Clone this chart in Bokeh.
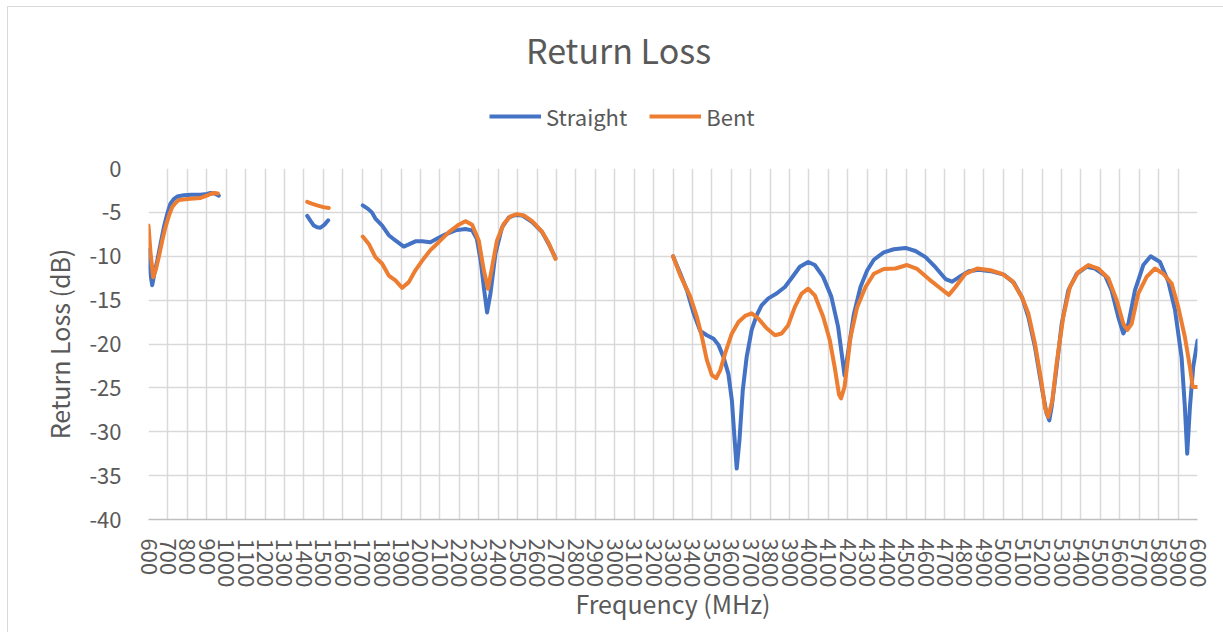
from math import nan
from bokeh.plotting import figure
from bokeh.layouts import column
from bokeh.models import Range1d, FixedTicker, Legend, LegendItem, Label
from bokeh.embed import file_html
from bokeh.resources import INLINE

# ---------------- data ----------------
freq_ticks = list(range(600, 6001, 100))
db_ticks = [-40, -35, -30, -25, -20, -15, -10, -5, 0]
db_tick_labels = ["-40", "-35", "-30", "-25", "-20", "-15", "-10", "-5", "0"]
series_names = ["Straight", "Bent"]

straight_f = [600, 610, 619, 630, 645, 662, 679, 696, 713, 730, 748, 782, 820, 868, 900, 919, 940, 962,
              nan,
              1417, 1435, 1451, 1468, 1485, 1506, 1525,
              nan,
              1703, 1730, 1750, 1768, 1803, 1837, 1871, 1914, 1940, 1974, 2009, 2051, 2094, 2129, 2180,
              2231, 2266, 2290, 2310, 2326, 2343, 2360, 2386, 2420, 2454, 2489, 2523, 2575, 2626, 2660, 2695,
              nan,
              3300, 3338, 3372, 3406, 3440, 3474, 3509, 3534, 3560, 3585, 3603, 3615, 3628, 3642, 3659,
              3679, 3705, 3731, 3756, 3791, 3833, 3876, 3910, 3953, 3996, 4030, 4073, 4115, 4150, 4175,
              4183, 4205, 4231, 4265, 4300, 4334, 4385, 4437, 4497, 4548, 4600, 4651, 4703, 4737, 4771,
              4823, 4874, 4934, 5003, 5054, 5097, 5129, 5163, 5198, 5223, 5237, 5249, 5275, 5301, 5335,
              5378, 5429, 5472, 5524, 5558, 5592, 5618, 5644, 5678, 5721, 5759, 5807, 5850, 5884, 5918,
              5935, 5947, 5961, 5978, 6000]
straight_db = [-9.3, -12.0, -13.3, -12.0, -10.5, -8.6, -6.7, -5.2, -4.0, -3.5, -3.2, -3.05, -3.0, -3.0, -2.9, -2.8, -2.85, -3.1,
               nan,
               -5.4, -6.0, -6.5, -6.7, -6.75, -6.4, -5.9,
               nan,
               -4.2, -4.6, -5.0, -5.7, -6.5, -7.6, -8.2, -8.9, -8.65, -8.3, -8.3, -8.4, -7.9, -7.5, -7.05,
               -6.9, -7.05, -8.0, -10.5, -13.5, -16.4, -14.3, -9.7, -6.7, -5.6, -5.3, -5.35, -6.1, -7.25, -8.6, -10.2,
               nan,
               -10.0, -12.0, -13.9, -16.5, -18.5, -19.0, -19.4, -20.1, -21.5, -23.4, -26.4, -30.2, -34.2, -31.0, -25.3,
               -21.5, -18.4, -16.7, -15.6, -14.8, -14.25, -13.5, -12.5, -11.2, -10.65, -11.0, -12.35, -14.6, -18.05, -22.2,
               -23.6, -20.4, -16.6, -13.5, -11.6, -10.4, -9.55, -9.2, -9.05, -9.4, -10.1, -11.25, -12.6, -12.9, -12.4,
               -11.7, -11.55, -11.7, -12.1, -13.0, -14.7, -16.9, -20.3, -24.9, -27.9, -28.7, -27.2, -22.6, -17.7, -13.9,
               -12.0, -11.2, -11.4, -12.2, -13.9, -16.9, -18.8, -17.7, -13.9, -11.0, -10.0, -10.65, -12.9, -16.1, -21.5,
               -27.2, -32.5, -27.2, -22.6, -19.6]

bent_f = [600, 610, 624, 638, 653, 670, 687, 705, 722, 740, 756, 790, 816, 868, 900, 919, 940, 957,
          nan,
          1417, 1440, 1468, 1500, 1528,
          nan,
          1703, 1734, 1768, 1803, 1837, 1871, 1906, 1940, 1974, 2009, 2051, 2094, 2146, 2197, 2231,
          2266, 2300, 2326, 2348, 2369, 2394, 2429, 2463, 2497, 2532, 2575, 2626, 2660, 2695,
          nan,
          3300, 3338, 3389, 3423, 3449, 3474, 3500, 3522, 3543, 3568, 3603, 3637, 3671, 3705, 3739,
          3782, 3825, 3859, 3893, 3927, 3962, 3996, 4030, 4073, 4107, 4132, 4155, 4165, 4183, 4214,
          4248, 4291, 4334, 4385, 4445, 4505, 4557, 4617, 4668, 4720, 4754, 4805, 4866, 4934, 4994,
          5046, 5097, 5129, 5163, 5198, 5215, 5232, 5253, 5275, 5309, 5343, 5386, 5438, 5489, 5541,
          5584, 5618, 5639, 5661, 5695, 5738, 5781, 5824, 5867, 5901, 5935, 5961, 5975, 6000]
bent_db = [-6.5, -9.5, -12.4, -11.5, -10.1, -8.3, -6.7, -5.4, -4.4, -3.9, -3.6, -3.5, -3.45, -3.35, -3.1, -2.9, -2.8, -2.85,
           nan,
           -3.8, -4.0, -4.2, -4.4, -4.5,
           nan,
           -7.75, -8.6, -10.1, -10.85, -12.2, -12.75, -13.6, -12.95, -11.6, -10.5, -9.3, -8.4, -7.25, -6.4, -6.0,
           -6.4, -8.2, -11.6, -13.7, -11.2, -8.2, -6.3, -5.45, -5.2, -5.35, -6.0, -7.2, -8.5, -10.3,
           nan,
           -10.0, -12.2, -14.6, -16.9, -19.2, -21.8, -23.55, -23.9, -23.0, -21.1, -18.8, -17.5, -16.8, -16.5, -17.1,
           -18.2, -19.0, -18.8, -17.85, -15.8, -14.25, -13.7, -14.45, -16.9, -19.55, -22.6, -25.8, -26.2, -24.9, -19.2,
           -15.8, -13.5, -12.0, -11.45, -11.4, -11.0, -11.45, -12.6, -13.5, -14.4, -13.5, -12.0, -11.4, -11.6, -12.0,
           -12.8, -14.7, -16.5, -19.9, -24.5, -27.3, -28.3, -26.4, -22.2, -16.9, -13.5, -11.8, -11.0, -11.4, -12.5,
           -15.0, -17.7, -18.4, -17.7, -14.25, -12.35, -11.4, -12.0, -13.1, -15.8, -19.2, -22.6, -24.9, -24.9]

# ---------------- styling ----------------
FONT = "Noto Sans CJK SC"
TXT = "#595959"
GRID = "#D9D9D9"
BLUE = "#4472C4"
ORANGE = "#ED7D31"
LW = 4

W, H_HEAD, H_MAIN = 1223, 150, 482
FRAME_L, FRAME_R = 148, 1197   # header frame is aligned with the main plot frame by the column layout

# ----- header: title and legend -----
head = figure(width=W, height=H_HEAD, output_backend="svg", toolbar_location=None,
              x_range=Range1d(FRAME_L, FRAME_R), y_range=Range1d(0, H_HEAD),
              x_axis_type=None, y_axis_type=None,
              min_border=0, min_border_left=0, min_border_right=0, min_border_top=0, min_border_bottom=0)
head.grid.visible = False
head.outline_line_color = None
head.background_fill_alpha = 0
head.border_fill_alpha = 0
head.add_layout(Label(x=618, y=H_HEAD - 49, text="Return Loss", text_align="center", text_baseline="middle",
                      text_font=FONT, text_font_size="34px", text_color=TXT))
# legend proxies: same series, they fall outside the header's y range and are not visible there
h1 = head.line(straight_f, straight_db, line_color=BLUE, line_width=LW)
h2 = head.line(bent_f, bent_db, line_color=ORANGE, line_width=LW)
head.add_layout(Legend(items=[LegendItem(label=series_names[0], renderers=[h1]),
                              LegendItem(label=series_names[1], renderers=[h2])],
                       orientation="horizontal", location=(489 - FRAME_L, 18),
                       label_text_font=FONT, label_text_font_size="22px", label_text_color=TXT,
                       glyph_width=52, glyph_height=24, label_standoff=5, spacing=22,
                       padding=0, margin=0, border_line_color=None, background_fill_alpha=0), "center")

# ----- main plot -----
p = figure(width=W, height=H_MAIN, output_backend="svg", toolbar_location=None,
           x_range=Range1d(600, 6000), y_range=Range1d(-40, 0),
           min_border_left=FRAME_L, min_border_right=W - FRAME_R, min_border_top=18, min_border_bottom=113)
p.outline_line_color = None
p.background_fill_color = "white"
p.border_fill_alpha = 0

p.line(straight_f, straight_db, line_color=BLUE, line_width=LW, line_join="round", line_cap="round")
p.line(bent_f, bent_db, line_color=ORANGE, line_width=LW, line_join="round", line_cap="round")

xt = FixedTicker(ticks=freq_ticks)
yt = FixedTicker(ticks=db_ticks)
p.xaxis.ticker = xt
p.yaxis.ticker = yt
p.yaxis.major_label_overrides = dict(zip(db_ticks, db_tick_labels))
p.xgrid.ticker = xt
p.ygrid.ticker = yt
for g in (p.xgrid, p.ygrid):
    g.grid_line_color = GRID
    g.grid_line_width = 1.5

p.xaxis.major_label_orientation = "vertical"
p.xaxis.axis_line_color = "#BFBFBF"
p.xaxis.axis_line_width = 1.5
p.yaxis.axis_line_color = None
for ax in (p.xaxis, p.yaxis):
    ax.major_tick_line_color = None
    ax.minor_tick_line_color = None
    ax.major_label_text_font = FONT
    ax.major_label_text_font_size = "22px"
    ax.major_label_text_color = TXT
    ax.axis_label_text_font = FONT
    ax.axis_label_text_font_size = "25px"
    ax.axis_label_text_font_style = "normal"
    ax.axis_label_text_color = TXT
p.xaxis.axis_label = "Frequency (MHz)"
p.yaxis.axis_label = "Return Loss (dB)"
p.xaxis.major_label_standoff = 13
p.yaxis.major_label_standoff = 21
p.xaxis.axis_label_standoff = -5
p.yaxis.axis_label_standoff = 9

layout = column(head, p, spacing=0,
                styles={"background": "white",
                        "box-shadow": "inset 7px 6px 0 0 white, inset 8px 7px 0 0 #D9D9D9"})

open("out.html", "w").write(file_html(layout, INLINE))
